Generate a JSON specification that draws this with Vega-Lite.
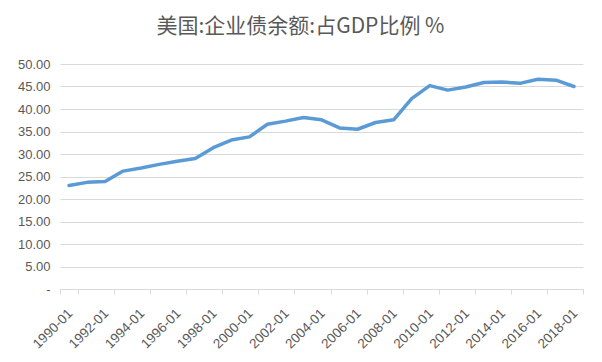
{
  "$schema": "https://vega.github.io/schema/vega-lite/v6.json",
  "width": 523,
  "height": 225,
  "autosize": "none",
  "padding": {"left": 60, "top": 64, "right": 19, "bottom": 73},
  "background": "white",
  "title": {"text": "美国:企业债余额:占GDP比例 %", "font": "Noto Sans CJK SC", "fontSize": 21, "fontWeight": "normal", "color": "#595959", "anchor": "middle", "dx": -21, "offset": 21},
  "data": {"values": [
    {"date": "1990-01", "value": 23.0},
    {"date": "1991-01", "value": 23.7},
    {"date": "1992-01", "value": 23.9},
    {"date": "1993-01", "value": 26.2},
    {"date": "1994-01", "value": 26.9},
    {"date": "1995-01", "value": 27.7},
    {"date": "1996-01", "value": 28.4},
    {"date": "1997-01", "value": 29.0},
    {"date": "1998-01", "value": 31.4},
    {"date": "1999-01", "value": 33.1},
    {"date": "2000-01", "value": 33.8},
    {"date": "2001-01", "value": 36.6},
    {"date": "2002-01", "value": 37.3},
    {"date": "2003-01", "value": 38.1},
    {"date": "2004-01", "value": 37.6},
    {"date": "2005-01", "value": 35.8},
    {"date": "2006-01", "value": 35.5},
    {"date": "2007-01", "value": 37.0},
    {"date": "2008-01", "value": 37.6},
    {"date": "2009-01", "value": 42.3},
    {"date": "2010-01", "value": 45.2},
    {"date": "2011-01", "value": 44.2},
    {"date": "2012-01", "value": 44.9},
    {"date": "2013-01", "value": 45.9},
    {"date": "2014-01", "value": 46.0},
    {"date": "2015-01", "value": 45.7},
    {"date": "2016-01", "value": 46.6},
    {"date": "2017-01", "value": 46.4},
    {"date": "2018-01", "value": 45.0}
  ]},
  "mark": {"type": "line", "color": "#5B9BD5", "strokeWidth": 3.5, "strokeCap": "round", "strokeJoin": "round"},
  "encoding": {
    "x": {
      "field": "date", "type": "ordinal", "sort": null,
      "scale": {"type": "band", "paddingInner": 0, "paddingOuter": 0},
      "axis": {
        "title": null,
        "values": ["1990-01","1992-01","1994-01","1996-01","1998-01","2000-01","2002-01","2004-01","2006-01","2008-01","2010-01","2012-01","2014-01","2016-01","2018-01"],
        "labelAngle": -45, "labelOffset": -4, "labelPadding": 12,
        "tickBand": "extent", "tickSize": 5,
        "domainColor": "#D9D9D9", "tickColor": "#D9D9D9",
        "labelColor": "#595959", "labelFont": "Liberation Sans", "labelFontSize": 13.5,
        "grid": false
      }
    },
    "y": {
      "field": "value", "type": "quantitative",
      "scale": {"domain": [0, 50]},
      "axis": {
        "title": null,
        "values": [0,5,10,15,20,25,30,35,40,45,50],
        "labelExpr": "datum.value == 0 ? '-' : format(datum.value, '.2f')",
        "domain": false, "ticks": false,
        "gridColor": "#D9D9D9",
        "labelPadding": 10,
        "labelColor": "#595959", "labelFont": "Liberation Sans", "labelFontSize": 13
      }
    }
  },
  "config": {"view": {"stroke": null}}
}
